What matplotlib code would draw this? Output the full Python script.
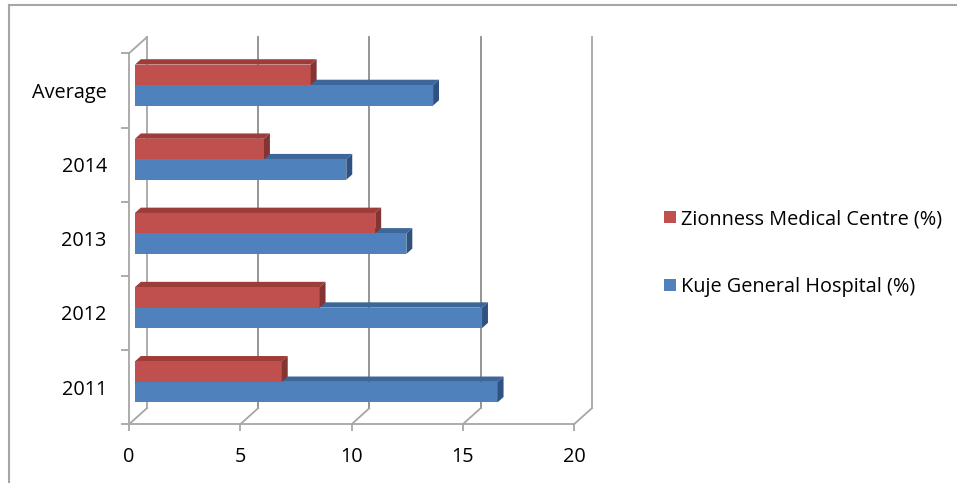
import matplotlib
matplotlib.use("Agg")
import matplotlib.pyplot as plt
from matplotlib.patches import Polygon
from matplotlib.lines import Line2D
import numpy as np

# data
categories = ["2011", "2012", "2013", "2014", "Average"]
kuje = [16.3, 15.6, 12.2, 9.5, 13.4]
zionness = [6.6, 8.3, 10.8, 5.8, 7.9]
series_names = ["Zionness Medical Centre (%)", "Kuje General Hospital (%)"]
xticks = [0, 5, 10, 15, 20]

plt.rcParams['font.family'] = ['Open Sans', 'DejaVu Sans']
fs = 14.3

W, H = 957, 483
fig = plt.figure(figsize=(W / 100, H / 100), dpi=100)
ax = fig.add_axes([129 / W, (H - 424.3) / H, (574 - 129) / W, (424.3 - 53.3) / H])
ax.set_xlim(0, 20)
ax.set_ylim(-0.5, 4.5)

grid_c = "#8c8c8c"
wall_c = "#a6a6a6"
# depth of the 3d box (value units, category units)
dx, dy = 0.8, 0.216

# back wall / floor
for x in xticks:
    c = grid_c if 0 < x < 20 else wall_c
    ax.plot([x + dx, x + dx], [-0.5 + dy, 4.5 + dy], color=c, lw=1.3, clip_on=False, zorder=1)
    ax.plot([x, x + dx], [-0.5, -0.5 + dy], color=wall_c, lw=1.3, clip_on=False, zorder=1)
ax.plot([0, dx], [4.5, 4.5 + dy], color=wall_c, lw=1.3, clip_on=False, zorder=1)

# bars
y = np.arange(len(categories))
h = 0.276
bx, by = dx / 3, dy / 3
faces = {
    "blue": ("#4f81bd", "#3d6699", "#2f5282"),
    "red": ("#c0504d", "#9e3c39", "#843432"),
}
handles = []
for vals, key, yc in [(kuje, "blue", y + by - h / 2), (zionness, "red", y + by + h / 2)]:
    front, top, side = faces[key]
    b = ax.barh(yc, vals, height=h, left=bx, color=front, zorder=3)
    handles.append(b)
    for v, c in zip(vals, yc):
        x0, x1 = bx, bx + v
        y0, y1 = c - h / 2, c + h / 2
        ax.add_patch(Polygon([(x0, y1), (x1, y1), (x1 + bx, y1 + by), (x0 + bx, y1 + by)],
                             closed=True, color=top, zorder=2.5, lw=0))
        ax.add_patch(Polygon([(x1, y0), (x1, y1), (x1 + bx, y1 + by), (x1 + bx, y0 + by)],
                             closed=True, color=side, zorder=3.5, lw=0))

# axes
for s in ["top", "right"]:
    ax.spines[s].set_visible(False)
for s in ["left", "bottom"]:
    ax.spines[s].set_color(wall_c)
    ax.spines[s].set_linewidth(1.3)
ax.set_xticks(xticks)
ax.set_xticklabels([str(t) for t in xticks])
ax.tick_params(axis="x", length=5, width=1.3, color=wall_c, pad=11, labelsize=fs, labelcolor="black")
ax.set_yticks(np.arange(-0.5, 5, 1))
ax.set_yticklabels([])
ax.set_yticks(y, minor=True)
ax.set_yticklabels(categories, minor=True)
ax.tick_params(axis="y", which="major", length=6, width=1.3, color=wall_c)
ax.tick_params(axis="y", which="minor", length=0, pad=16, labelsize=fs, labelcolor="black")

ax.legend([handles[1], handles[0]], series_names, loc="center left",
          bbox_to_anchor=(646 / W, (H - 253) / H), bbox_transform=fig.transFigure,
          frameon=False, fontsize=fs, handlelength=0.6, handleheight=0.6,
          handletextpad=0.28, labelspacing=2.4)

# outer border
fig.add_artist(Line2D([8.5 / W, 1], [1 - 5 / H, 1 - 5 / H], color="#a6a6a6", lw=1.5, transform=fig.transFigure))
fig.add_artist(Line2D([8.5 / W, 8.5 / W], [0, 1 - 5 / H], color="#a6a6a6", lw=1.5, transform=fig.transFigure))

fig.savefig("out.png", dpi=100)
